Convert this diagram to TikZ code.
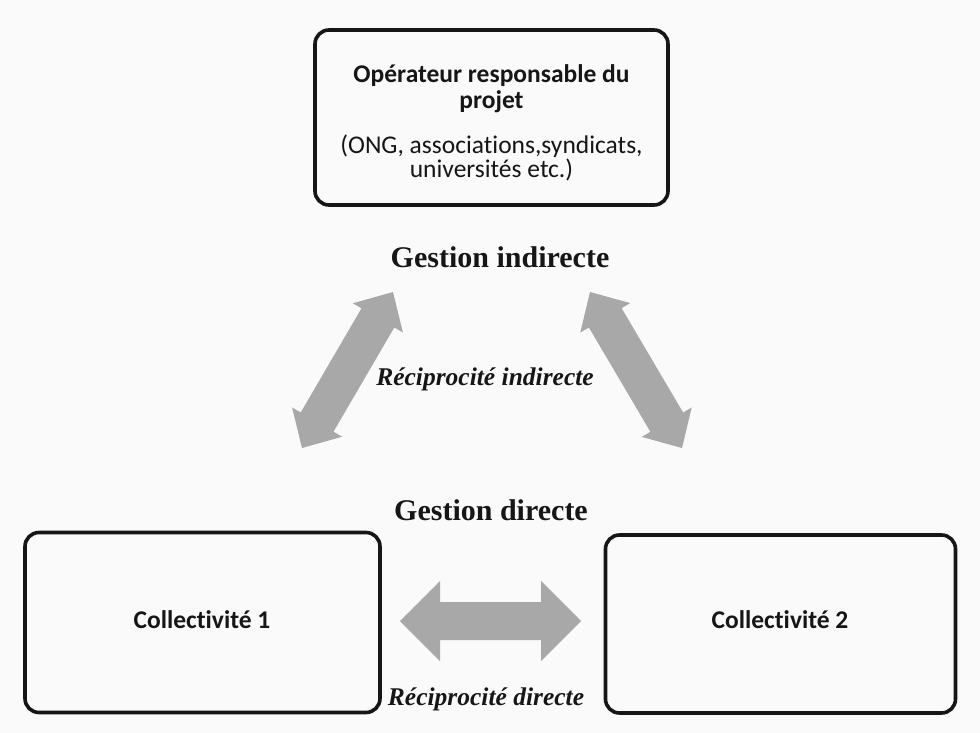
\documentclass[tikz,border=0pt]{standalone}
\usepackage{fontspec}
\setmainfont{Liberation Serif}
\newfontfamily\calfont[Ligatures=NoCommon]{Carlito}
\usetikzlibrary{calc}
\definecolor{bgcol}{RGB}{250,250,250}
\definecolor{arrowgray}{RGB}{168,168,168}
\definecolor{inkcol}{RGB}{22,22,22}
\tikzset{
  box/.style={draw=inkcol, line width=3.6pt, rounded corners=14pt, inner sep=0pt},
  calbold/.style={font=\calfont\bfseries\fontsize{25.5}{26}\selectfont, text=inkcol, inner sep=0pt, align=center},
  calreg/.style={font=\calfont\fontsize{25.5}{24}\selectfont, text=inkcol, inner sep=0pt, align=center},
  gestion/.style={font=\bfseries\fontsize{30}{32}\selectfont, text=inkcol, inner sep=0pt},
  recip/.style={font=\bfseries\itshape\fontsize{25.5}{28}\selectfont, text=inkcol, inner sep=0pt},
  arrowfill/.style={fill=arrowgray},
}
% #1 prefix, #2 from, #3 to, #4 shaft half width, #5 head half width, #6 head length
\newcommand\dblarrow[6]{%
  \coordinate (#1-a) at ($(#2)!#6!(#3)$);
  \coordinate (#1-b) at ($(#3)!#6!(#2)$);
  \fill[arrowfill] (#2) -- ($(#1-a)!#5!90:(#3)$) -- ($(#1-a)!#4!90:(#3)$)
    -- ($(#1-b)!#4!-90:(#2)$) -- ($(#1-b)!#5!-90:(#2)$) -- (#3)
    -- ($(#1-b)!#5!90:(#2)$) -- ($(#1-b)!#4!90:(#2)$)
    -- ($(#1-a)!#4!-90:(#3)$) -- ($(#1-a)!#5!-90:(#3)$) -- cycle;}
\begin{document}
\begin{tikzpicture}[x=1pt, y=-1pt]
  \fill[bgcol] (0,0) rectangle (980,733);
  \useasboundingbox (0,0) rectangle (980,733);

  % boxes
  \node[box, minimum width=353pt, minimum height=175pt] (op) at (491.5,117.5) {};
  \node[box, minimum width=355pt, minimum height=180pt] (c1) at (202.5,622.5) {};
  \node[box, minimum width=350pt, minimum height=178pt] (c2) at (780.5,624) {};

  % texts in boxes
  \node[calbold] (optitle) at (491.5,89) {Opérateur responsable du\\projet};
  \node[calreg] (opsub) at (491.5,158) {(ONG, associations,syndicats,\\universités etc.)};
  \node[calbold, anchor=base] (c1t) at (202,628) {Collectivité 1};
  \node[calbold, anchor=base] (c2t) at (780,628) {Collectivité 2};

  % labels
  \node[gestion, anchor=base] (gi) at (500,267) {Gestion indirecte};
  \node[gestion, anchor=base] (gd) at (491,520) {Gestion directe};
  \node[recip, anchor=base] (ri) at (485,385) {Réciprocité indirecte};
  \node[recip, anchor=base] (rd) at (486,705) {Réciprocité directe};

  % arrows
  \coordinate (l1) at (302,448); \coordinate (l2) at (393,292);
  \coordinate (r1) at (590,292); \coordinate (r2) at (682,448);
  \coordinate (h1) at (400,621); \coordinate (h2) at (581,621);
  \dblarrow{la}{l1}{l2}{19pt}{29pt}{30pt}
  \dblarrow{ra}{r1}{r2}{19pt}{29pt}{30pt}
  \dblarrow{ha}{h1}{h2}{19pt}{40pt}{40pt}
\end{tikzpicture}
\end{document}
